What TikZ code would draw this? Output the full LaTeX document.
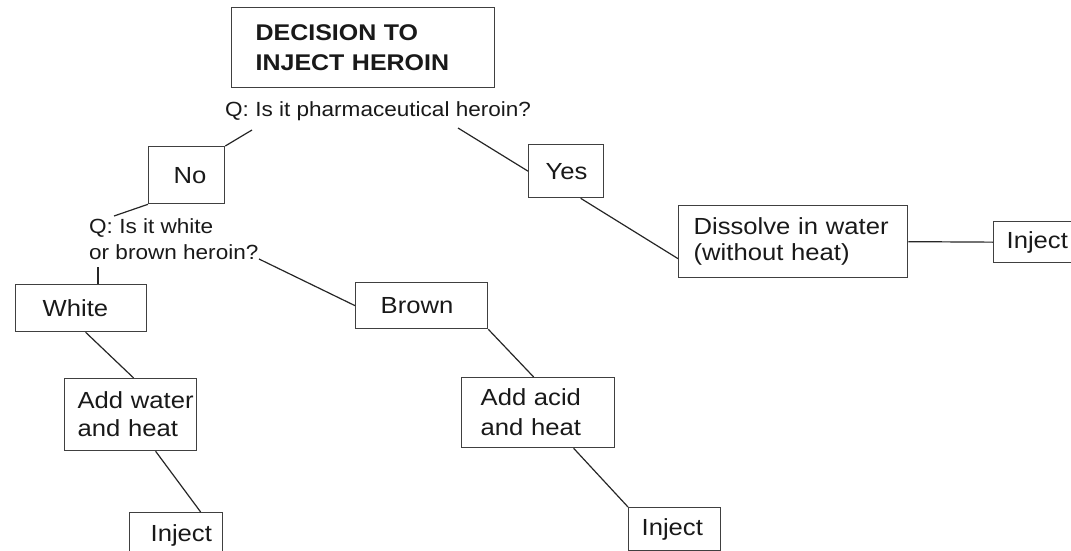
\documentclass[tikz,border=0pt]{standalone}
\usepackage{fontspec}
\setmainfont[FakeStretch=1.1]{Liberation Sans}
\usetikzlibrary{calc}
\newcommand\mytitlefont{\fontsize{22.7}{29.4}\selectfont\bfseries}
\newcommand\myboxfont{\fontsize{23.3}{28}\selectfont}
\newcommand\myqfont{\fontsize{20.5}{26}\selectfont}
\begin{document}
\begin{tikzpicture}[x=1pt,y=-1pt,
  box/.style={draw=black!75, line width=1.3pt, rectangle, inner ysep=0pt,
    align=left, anchor=north west, font=\myboxfont, text=black!90},
  link/.style={draw=black!85, line width=1.2pt},
  qtext/.style={inner sep=0pt, align=left, font=\myqfont, text=black!90}]
\useasboundingbox (0,0) rectangle (1071,551);
\clip (0,0) rectangle (1071,551);

% boxes
\node[box, font=\mytitlefont, inner xsep=24pt, text width=215pt, minimum height=80pt] (title) at (231,7) {\mbox{DECISION TO}\\\mbox{INJECT HEROIN}};
\node[box, inner xsep=25pt, text width=26pt, minimum height=57pt] (no) at (148,146) {No};
\node[box, inner xsep=17pt, text width=41pt, minimum height=53pt] (yes) at (528,144) {Yes};
\node[box, inner xsep=27pt, text width=77pt, minimum height=47pt] (white) at (15,284) {White};
\node[box, inner xsep=25pt, text width=82pt, minimum height=46pt] (brown) at (355,282) {Brown};
\node[box, font=\fontsize{23.3}{26.5}\selectfont, inner xsep=15pt, text width=199pt, minimum height=72pt] (dis) at (678,205) {\mbox{Dissolve in water}\\\mbox{(without heat)}};
\node[box, inner xsep=13pt, text width=64pt, minimum height=41pt] (inj1) at (993,221) {Inject};
\node[box, inner xsep=13pt, text width=106pt, minimum height=72pt] (aw) at (64,378) {\mbox{Add water}\\\mbox{and heat}};
\node[box, font=\fontsize{23.3}{30}\selectfont, inner xsep=19pt, text width=115pt, minimum height=70pt] (aa) at (461,377) {\mbox{Add acid}\\\mbox{and heat}};
\node[box, inner xsep=21pt, text width=51pt, minimum height=46pt] (inj2) at (129,512) {Inject};
\node[box, inner xsep=13pt, text width=66pt, minimum height=43pt] (inj3) at (628,507) {Inject};

% questions
\node[qtext, anchor=base west] (q1) at (225,116) {Q: Is it pharmaceutical heroin?};
\node[qtext, anchor=south west, text depth=0pt] (q2) at (89,260) {Q: Is it white\\or brown heroin?};

% free ends of connectors
\coordinate (q1l) at (252,130);
\coordinate (q1r) at (458,128);
\coordinate (q2a) at (114,216);
\coordinate (q2b) at (98,267);
\coordinate (q2c) at (259,259);

% connectors
\draw[link] (q1l) -- (no.north east);
\draw[link] (q1r) -- (yes.west);
\draw[link] (no.south west) -- (q2a);
\draw[link] (q2b) -- (q2b |- white.north);
\draw[link] (q2c) -- (brown.west);
\draw[link] ([xshift=14.5pt]yes.south) -- ([yshift=-17pt]dis.west);
\draw[link] (dis.east) -- (inj1.west);
\draw[link] ([xshift=4.5pt]white.south) -- ([xshift=3pt]aw.north);
\draw[link] ([xshift=25pt]aw.south) -- ([xshift=24.5pt]inj2.north);
\draw[link] (brown.south east) -- ([xshift=-4.5pt]aa.north);
\draw[link] ([xshift=35.5pt]aa.south) -- (inj3.north west);
\end{tikzpicture}
\end{document}
